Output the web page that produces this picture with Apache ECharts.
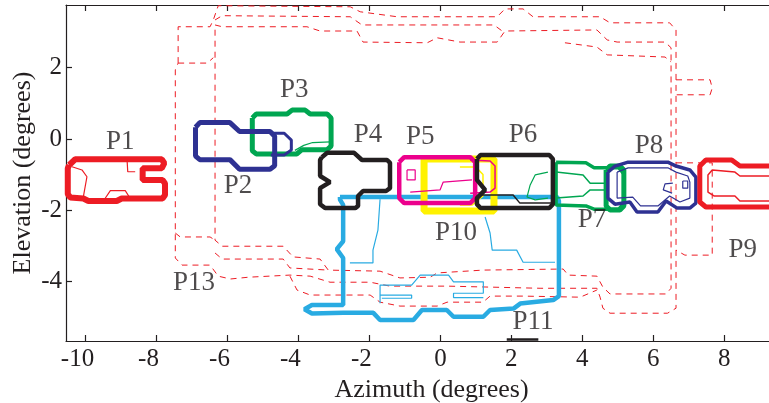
<!DOCTYPE html>
<html>
<head>
<meta charset="utf-8">
<script src="https://cdn.jsdelivr.net/npm/echarts@6/dist/echarts.min.js"></script>
<style>
html,body{margin:0;padding:0;background:#fff;}
#chart{width:769px;height:403px;}
</style>
</head>
<body>
<div id="chart"></div>
<script>
// Axis extents and tick positions (degrees)
const azimuthRange = [-10.55, 9.26];
const elevationRange = [-5.67, 3.76];
const azimuthTicks = [-10, -8, -6, -4, -2, 0, 2, 4, 6, 8];
const elevationTicks = [-4, -2, 0, 2];

// Contour outlines, each point is [azimuth, elevation] in degrees
const p1Outline = [[-10.46,-0.73],[-10.29,-0.57],[-7.85,-0.57],[-7.78,-0.68],[-7.85,-0.82],[-8.39,-0.82],[-8.39,-1.15],[-7.83,-1.15],[-7.76,-1.25],[-7.76,-1.57],[-7.83,-1.67],[-8.98,-1.67],[-9.12,-1.74],[-9.92,-1.74],[-10.06,-1.67],[-10.43,-1.64],[-10.50,-1.55],[-10.50,-0.82]];
const p1Notch = [[-8.83,-0.57],[-8.81,-0.92],[-8.60,-0.92]];
const p1InnerLeft = [[-10.38,-0.78],[-10.10,-0.87],[-9.96,-1.06],[-10.06,-1.62]];
const p1InnerBump = [[-9.45,-1.67],[-9.30,-1.45],[-8.88,-1.45],[-8.74,-1.67]];

const p2Outline = [[-6.90,0.33],[-6.78,0.46],[-5.93,0.46],[-5.66,0.21],[-4.80,0.21],[-4.67,0.08],[-4.67,-0.75],[-4.80,-0.85],[-5.66,-0.85],[-5.93,-0.58],[-6.78,-0.58],[-6.90,-0.48]];
const p2Nose = [[-4.78,0.16],[-4.40,0.16],[-4.20,-0.03],[-4.20,-0.31],[-4.40,-0.45],[-4.78,-0.45]];

const p3Outline = [[-5.30,0.59],[-5.19,0.70],[-4.32,0.70],[-4.18,0.81],[-3.81,0.81],[-3.67,0.70],[-3.19,0.70],[-3.08,0.59],[-3.08,-0.20],[-3.19,-0.30],[-3.90,-0.30],[-4.05,-0.42],[-5.19,-0.42],[-5.30,-0.33]];
const p3Inner = [[-3.10,-0.08],[-3.60,-0.10],[-3.85,-0.18],[-4.10,-0.32]];

const p4Outline = [[-3.34,-0.51],[-3.19,-0.39],[-2.43,-0.39],[-2.21,-0.59],[-1.50,-0.59],[-1.42,-0.67],[-1.42,-1.38],[-1.53,-1.46],[-2.18,-1.46],[-2.32,-1.60],[-2.32,-1.88],[-2.40,-1.94],[-3.25,-1.94],[-3.39,-1.83],[-3.39,-1.38],[-3.11,-1.21],[-3.39,-1.04],[-3.39,-0.59]];

const p5Outline = [[-1.16,-0.65],[-1.02,-0.51],[0.84,-0.51],[0.98,-0.65],[0.98,-1.66],[0.84,-1.80],[-1.02,-1.80],[-1.16,-1.66]];
const p5Reach = [[0.84,-0.59],[1.40,-0.62],[1.54,-0.76],[1.54,-1.38],[1.40,-1.49],[0.84,-1.52]];
const p5Small = [[-0.94,-0.87],[-0.71,-0.87],[-0.71,-1.15],[-0.94,-1.15]];
const p5Inner = [[-0.85,-1.49],[-0.01,-1.43],[0.08,-1.21],[0.89,-1.15]];

const p6Outline = [[1.03,-0.56],[1.13,-0.45],[3.07,-0.45],[3.17,-0.56],[3.17,-1.83],[3.07,-1.94],[1.13,-1.94],[1.03,-1.83],[1.03,-1.66],[1.26,-1.43],[1.03,-1.15]];
const p6Inner = [[1.12,-1.57],[2.05,-1.57],[2.24,-1.80],[3.17,-1.80]];

const p7Outline = [[3.26,-0.65],[4.10,-0.67],[4.33,-0.81],[5.03,-0.81],[5.17,-0.98],[5.17,-1.80],[5.03,-1.97],[4.33,-1.97],[4.10,-1.88],[3.26,-1.85]];
const p7Core = [[4.67,-0.87],[4.78,-0.76],[5.06,-0.76],[5.17,-0.87],[5.17,-1.88],[5.06,-1.99],[4.78,-1.99],[4.67,-1.88]];
const p7InnerUpper = [[3.26,-0.93],[4.02,-1.01],[4.22,-1.24],[4.67,-1.24]];
const p7InnerLower = [[3.26,-1.66],[4.02,-1.60],[4.22,-1.43],[4.67,-1.43]];
const p7Spur = [[3.03,-0.93],[2.67,-1.01],[2.53,-1.29],[2.44,-1.63],[2.67,-1.71],[3.03,-1.66]];

const p8Outline = [[4.72,-0.93],[4.92,-0.76],[5.29,-0.65],[6.41,-0.65],[6.64,-0.76],[7.03,-0.87],[7.20,-1.07],[7.20,-1.80],[7.03,-1.94],[6.67,-1.94],[6.36,-1.74],[6.13,-2.05],[5.54,-2.05],[5.34,-1.77],[4.92,-1.83],[4.72,-1.66]];
const p8Inner = [[4.98,-0.93],[5.29,-0.81],[6.41,-0.81],[6.64,-0.93],[6.97,-1.04],[7.03,-1.21],[7.03,-1.66],[6.75,-1.77],[6.46,-1.60],[6.13,-1.88],[5.64,-1.88],[5.42,-1.63],[4.98,-1.66]];
const p8Notch = [[6.55,-1.24],[6.33,-1.26],[6.28,-1.43],[6.53,-1.52]];
const p8Slot = [[6.83,-1.18],[6.97,-1.18],[6.97,-1.38],[6.83,-1.38]];

const p9Outline = [[9.50,-0.76],[8.44,-0.76],[8.21,-0.59],[7.48,-0.59],[7.31,-0.76],[7.31,-1.77],[7.48,-1.91],[9.50,-1.91]];
const p9Inner = [[9.50,-1.04],[8.44,-1.04],[8.30,-0.93],[7.66,-0.87],[7.54,-1.01],[7.54,-1.49],[7.71,-1.60],[8.30,-1.60],[8.44,-1.74],[9.50,-1.74]];

const p10Outline = [[-0.46,-0.56],[1.51,-0.56],[1.51,-2.02],[-0.46,-2.02]];
const p10Inner = [[0.55,-0.79],[1.00,-0.79],[1.20,-1.00],[1.20,-1.60],[0.90,-1.85],[0.55,-1.85]];

const p11Outline = [[-2.83,-1.63],[3.29,-1.63],[3.34,-1.74],[3.34,-4.41],[3.18,-4.52],[2.25,-4.62],[2.06,-4.76],[1.40,-4.80],[1.21,-4.99],[0.37,-4.99],[0.18,-4.80],[-0.52,-4.80],[-0.76,-5.08],[-1.70,-5.08],[-1.89,-4.88],[-2.73,-4.88],[-3.62,-4.90],[-3.83,-4.78],[-3.62,-4.66],[-2.74,-4.66],[-2.74,-3.34],[-2.92,-3.09],[-2.74,-2.87],[-2.74,-1.85],[-2.83,-1.70]];
const p11InnerLeft = [[-1.70,-1.69],[-1.76,-2.56],[-1.90,-3.12],[-1.90,-3.48],[-2.55,-3.48]];
const p11InnerRight = [[1.26,-2.19],[1.40,-2.64],[1.46,-3.12],[2.15,-3.12],[2.33,-3.46],[3.23,-3.46]];
const p11InnerUpper = [[-1.70,-4.61],[-1.70,-4.10],[-0.81,-4.10],[-0.57,-3.82],[0.23,-3.82],[0.37,-4.01],[1.21,-4.01],[1.21,-4.33],[0.37,-4.33],[0.37,-4.45],[1.21,-4.45]];
const p11InnerLower = [[-1.70,-4.38],[-0.81,-4.38],[-0.81,-4.47],[-1.65,-4.47]];
const p11Base = [[1.87,-5.63],[2.76,-5.63]];

const p13Outer = [[-7.39,2.13],[-7.39,3.15],[-6.49,3.15],[-6.40,3.34],[-6.26,3.74],[-2.54,3.71],[-2.26,3.57],[-1.22,3.43],[1.60,3.43],[1.82,3.65],[2.33,3.65],[2.61,3.43],[4.50,3.43],[4.78,3.26],[6.46,3.26],[6.64,3.06],[6.64,-4.75],[6.40,-4.89],[4.78,-4.89],[4.58,-4.75],[4.50,-4.44],[4.41,-4.19],[2.81,-4.19],[0.19,-4.13],[-1.42,-4.13],[-1.98,-4.02],[-3.11,-4.02],[-3.67,-3.85],[-4.24,-3.82],[-5.41,-3.88],[-5.92,-3.93],[-6.26,-3.85],[-6.49,-3.54],[-7.28,-3.54],[-7.47,-3.34],[-7.47,1.94]];
const p13Inner = [[-6.35,3.20],[-6.15,3.15],[-3.76,3.15],[-3.39,3.03],[-2.35,3.03],[-2.18,2.72],[-0.37,2.70],[-0.09,2.84],[0.55,2.72],[1.60,2.72],[1.82,3.03],[4.41,3.06],[4.70,2.78],[4.98,2.72],[6.33,2.72],[6.50,2.56],[6.50,-4.19],[6.36,-4.35],[4.78,-4.35],[4.58,-4.16],[4.41,-3.85],[3.60,-3.82],[3.46,-3.65],[1.20,-3.68],[-0.09,-3.76],[-0.29,-3.88],[-1.14,-3.90],[-1.70,-3.71],[-3.16,-3.68],[-3.39,-3.37],[-4.15,-3.31],[-4.43,-3.01],[-5.27,-3.01],[-6.15,-3.01],[-6.35,-2.84]];
const p13TopRow = [[-6.35,3.34],[-6.15,3.46],[-2.54,3.43],[-2.21,3.20],[1.51,3.20],[1.74,3.03]];
const p13RightRow = [[3.51,2.70],[4.41,2.58],[4.70,2.36],[6.33,2.30],[6.50,2.16]];
const p13BottomRow = [[-4.24,-3.85],[-4.04,-4.24],[-3.67,-4.38],[-1.98,-4.38],[-1.70,-4.58],[-1.14,-4.69],[-0.09,-4.69],[0.19,-4.58],[1.20,-4.58],[1.40,-4.41],[2.33,-4.41],[3.94,-4.44],[4.41,-4.24]];
const p13LowerRow = [[-6.35,-3.20],[-6.15,-3.37],[-4.43,-3.37],[-4.24,-3.62],[-3.16,-3.68]];
const p13TabNW = [[-7.39,2.13],[-6.57,2.13],[-6.40,2.28]];
const p13TabSW = [[-7.47,-2.64],[-7.33,-2.75],[-6.49,-2.75],[-6.35,-2.84]];
const p13TabNE = [[6.64,1.66],[7.60,1.66],[7.66,1.43],[7.60,1.24],[6.64,1.24]];
const p13TabSE = [[6.64,-0.67],[7.66,-0.67],[7.66,-3.26],[6.89,-3.26],[6.64,-3.12]];

// Region names and where they are written
const regionNames = ['P1','P2','P3','P4','P5','P6','P7','P8','P9','P10','P11','P13'];
const regionLabelAz = [-9.02, -5.70, -4.12, -2.04, -0.57, 2.33, 4.27, 5.88, 8.52, 0.44, 2.61, -6.94];
const regionLabelEl = [-0.08, -1.32, 1.38, 0.11, 0.06, 0.11, -2.28, -0.20, -3.12, -2.64, -5.14, -4.04];

// Drawing styles
const RED = '#ed1c24', NAVY = '#2e3192', GREEN = '#00a651', INK = '#231f20',
      MAGENTA = '#ec008c', YELLOW = '#fff200', SKY = '#29abe2';
const FONT = '"Liberation Serif", "Times New Roman", serif';

const layers = [
  { pts: p13Outer, color: RED, width: 1, dash: true, closed: true },
  { pts: p13Inner, color: RED, width: 1, dash: true, closed: true },
  { pts: p13TopRow, color: RED, width: 1, dash: true },
  { pts: p13RightRow, color: RED, width: 1, dash: true },
  { pts: p13BottomRow, color: RED, width: 1, dash: true },
  { pts: p13LowerRow, color: RED, width: 1, dash: true },
  { pts: p13TabNW, color: RED, width: 1, dash: true },
  { pts: p13TabSW, color: RED, width: 1, dash: true },
  { pts: p13TabNE, color: RED, width: 1, dash: true },
  { pts: p13TabSE, color: RED, width: 1, dash: true },

  { pts: p11Outline, color: SKY, width: 4.5, closed: true },
  { pts: p11InnerLeft, color: SKY, width: 1.2 },
  { pts: p11InnerRight, color: SKY, width: 1.2 },
  { pts: p11InnerUpper, color: SKY, width: 1.2 },
  { pts: p11InnerLower, color: SKY, width: 1.2 },
  { pts: p11Base, color: INK, width: 2.5 },

  { pts: p10Outline, color: YELLOW, width: 7, closed: true },
  { pts: p10Inner, color: YELLOW, width: 1.5 },

  { pts: p5Outline, color: MAGENTA, width: 4.5, closed: true },
  { pts: p5Reach, color: MAGENTA, width: 1.5 },
  { pts: p5Small, color: MAGENTA, width: 1.2, closed: true },
  { pts: p5Inner, color: MAGENTA, width: 1.2 },

  { pts: p1Outline, color: RED, width: 6, closed: true },
  { pts: p1Notch, color: RED, width: 1.2 },
  { pts: p1InnerLeft, color: RED, width: 1.2 },
  { pts: p1InnerBump, color: RED, width: 1.2 },

  { pts: p3Outline, color: GREEN, width: 5, closed: true },
  { pts: p3Inner, color: GREEN, width: 1.2 },

  { pts: p2Outline, color: NAVY, width: 5, closed: true },
  { pts: p2Nose, color: NAVY, width: 3 },

  { pts: p4Outline, color: INK, width: 4.5, closed: true },

  { pts: p7Spur, color: GREEN, width: 1.2 },
  { pts: p7Outline, color: GREEN, width: 3.5, closed: true },
  { pts: p7InnerUpper, color: GREEN, width: 1.5 },
  { pts: p7InnerLower, color: GREEN, width: 1.5 },
  { pts: p7Core, color: GREEN, width: 5, closed: true },

  { pts: p6Outline, color: INK, width: 4.5, closed: true },
  { pts: p6Inner, color: INK, width: 1.5 },

  { pts: p8Outline, color: NAVY, width: 3.5, closed: true },
  { pts: p8Inner, color: NAVY, width: 1.2, closed: true },
  { pts: p8Notch, color: NAVY, width: 1.2 },
  { pts: p8Slot, color: NAVY, width: 1.2, closed: true },

  { pts: p9Outline, color: RED, width: 5 },
  { pts: p9Inner, color: RED, width: 1.5 }
];

const series = layers.map((layer, i) => ({
  type: 'line',
  data: layer.closed ? layer.pts.concat([layer.pts[0]]) : layer.pts,
  showSymbol: false,
  symbol: 'none',
  silent: true,
  clip: true,
  z: 2 + i * 0.01,
  lineStyle: {
    color: layer.color,
    width: layer.width,
    type: layer.dash ? [6, 5] : 'solid',
    join: 'bevel',
    cap: 'butt'
  }
}));

series.push({
  type: 'scatter',
  symbolSize: 0,
  silent: true,
  z: 10,
  data: regionNames.map((n, i) => ({ name: n, value: [regionLabelAz[i], regionLabelEl[i]] })),
  label: {
    show: true,
    position: 'inside',
    formatter: '{b}',
    fontFamily: FONT,
    fontSize: 27,
    color: INK
  }
});

const axisLineStyle = { show: true, onZero: false, lineStyle: { color: INK, width: 1.2 } };
const tickStyle = (vals) => ({ show: true, inside: true, length: 6, customValues: vals, lineStyle: { color: INK, width: 1.2 } });

const chart = echarts.init(document.getElementById('chart'), null, { renderer: 'canvas' });
chart.setOption({
  animation: false,
  backgroundColor: '#ffffff',
  grid: { left: 66, right: 0, top: 5, bottom: 62, containLabel: false, outerBoundsMode: 'none' },
  xAxis: [
    {
      type: 'value',
      position: 'bottom',
      min: azimuthRange[0],
      max: azimuthRange[1],
      name: 'Azimuth (degrees)',
      nameLocation: 'middle',
      nameGap: 30,
      nameTextStyle: { fontFamily: FONT, fontSize: 26, color: INK, padding: [0, 0, 0, 28] },
      axisLine: axisLineStyle,
      axisTick: tickStyle(azimuthTicks),
      splitLine: { show: false },
      axisLabel: {
        customValues: azimuthTicks,
        margin: 6,
        fontFamily: FONT,
        fontSize: 25,
        color: INK,
        // negative labels keep their digits centred on the tick, the sign hangs left
        formatter: (v) => v < 0 ? v + '{pad|-}' : String(v),
        rich: { pad: { fontFamily: FONT, fontSize: 25, width: 16, color: 'rgba(0,0,0,0)' } }
      }
    },
    {
      type: 'value',
      position: 'top',
      min: azimuthRange[0],
      max: azimuthRange[1],
      axisLine: axisLineStyle,
      axisTick: tickStyle(azimuthTicks),
      splitLine: { show: false },
      axisLabel: { show: false }
    }
  ],
  yAxis: {
    type: 'value',
    min: elevationRange[0],
    max: elevationRange[1],
    name: 'Elevation (degrees)',
    nameLocation: 'middle',
    nameGap: 30,
    nameMoveOverlap: false,
    nameTextStyle: { fontFamily: FONT, fontSize: 26, color: INK },
    axisLine: axisLineStyle,
    axisTick: tickStyle(elevationTicks),
    splitLine: { show: false },
    axisLabel: {
      customValues: elevationTicks,
      margin: 4,
      fontFamily: FONT,
      fontSize: 25,
      color: INK
    }
  },
  series: series
});
</script>
</body>
</html>
